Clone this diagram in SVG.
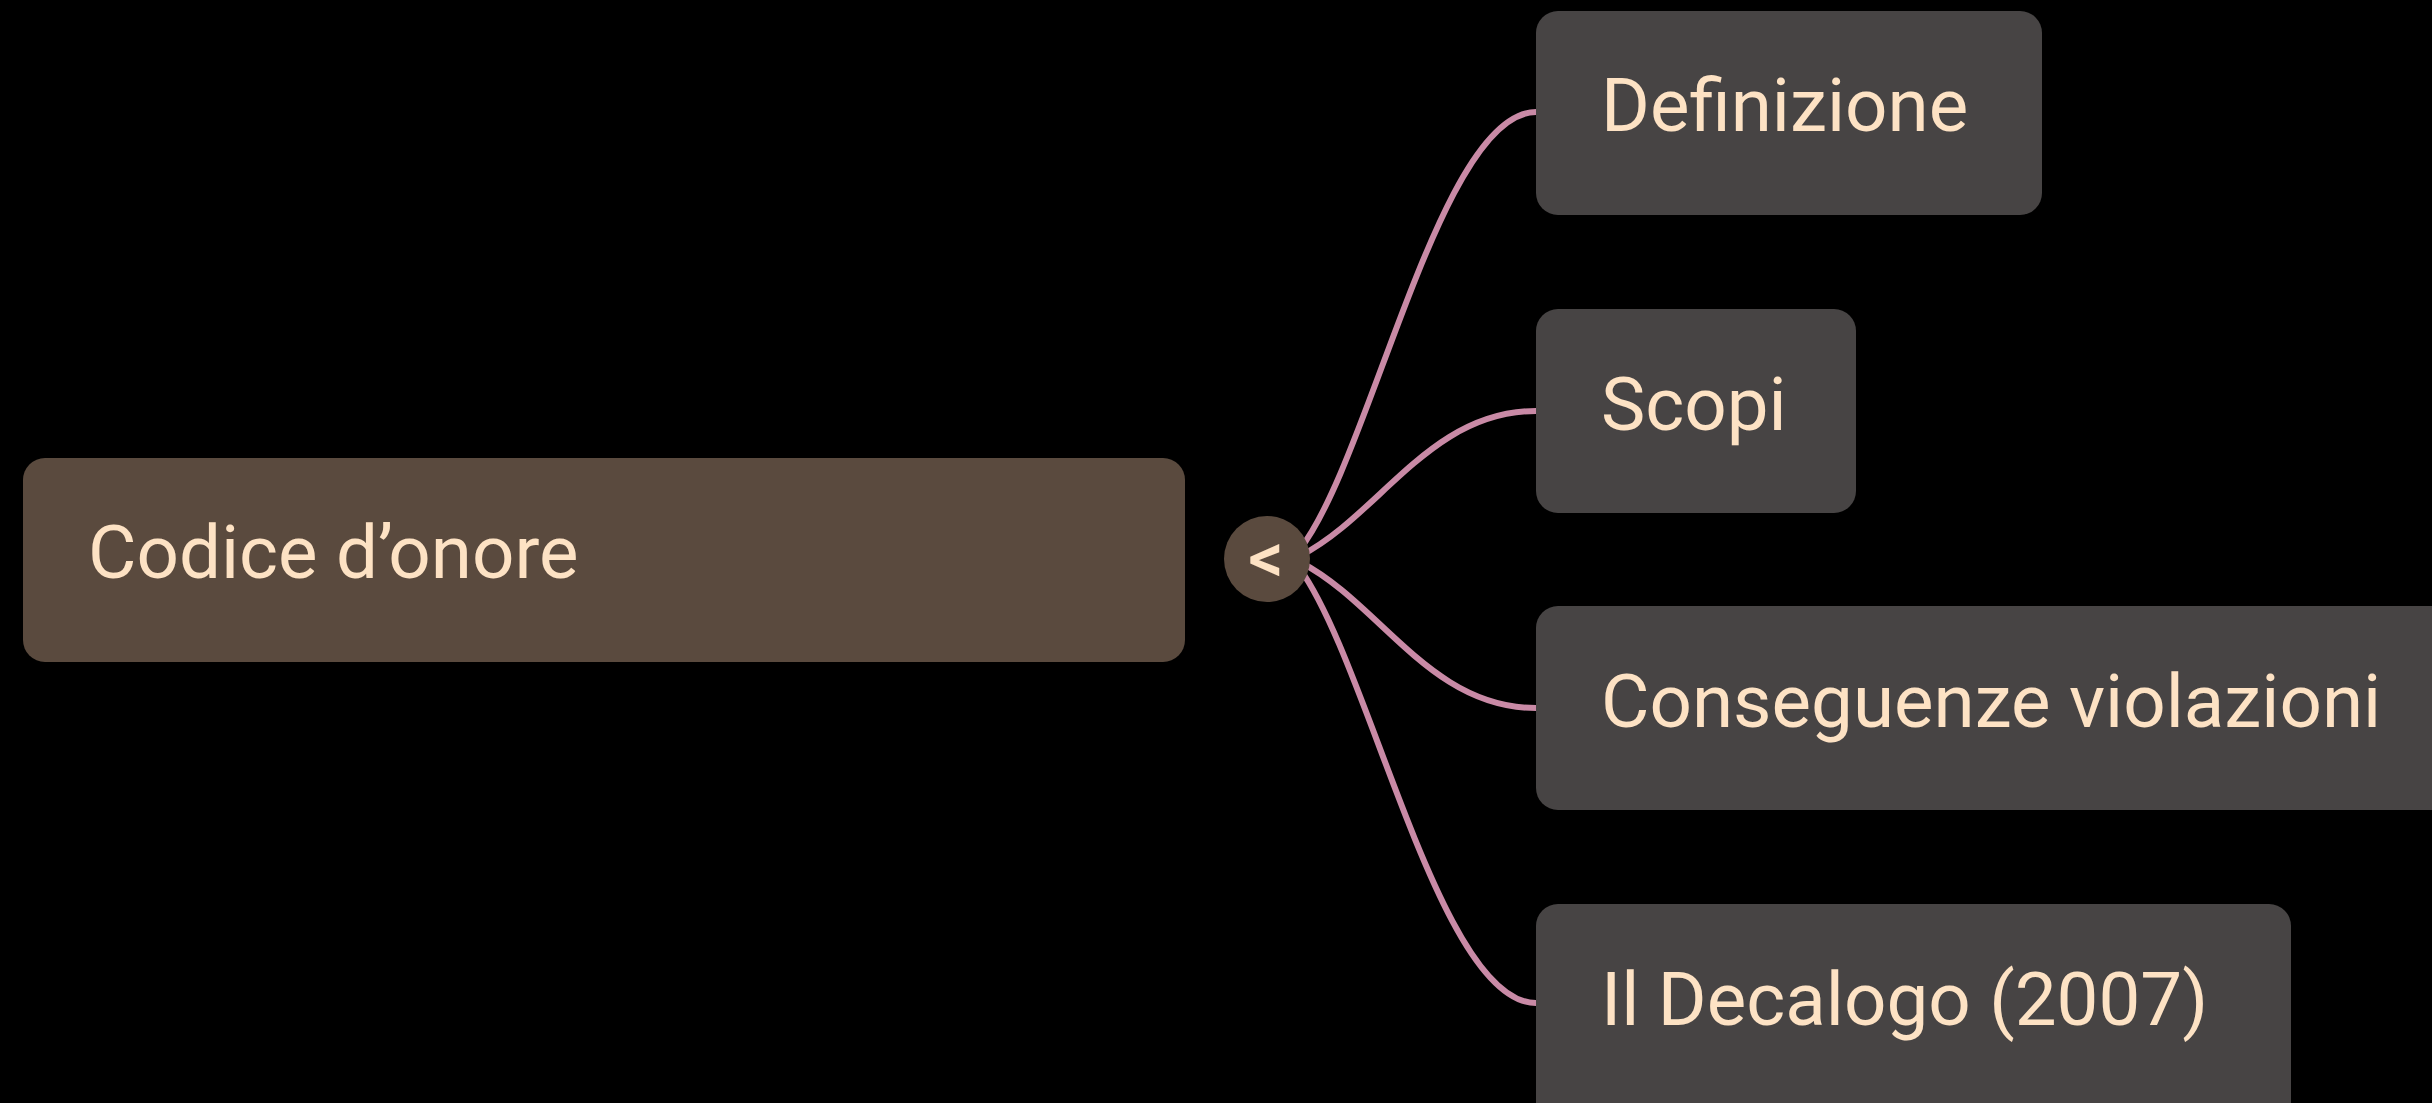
<svg xmlns="http://www.w3.org/2000/svg" width="2432" height="1103" viewBox="0 0 2432 1103">
<style>
.bg{fill:#000}
.root{fill:#5a4a3e}
.child{fill:#474444}
.lbl{font-family:Roboto,"Liberation Sans",sans-serif;font-size:74.5px;fill:#fde2c4}
.edge{fill:none;stroke:#c98aa6;stroke-width:6;stroke-linecap:round}
.toggle{fill:#5a4a3e}
.chev{font-family:Roboto,"Liberation Sans",sans-serif;font-size:70px;font-weight:500;fill:#fde2c4;text-anchor:middle}
</style>
<rect class="bg" x="0" y="0" width="2432" height="1103"/>
<g id="connectors">
<path class="edge" d="M1300 549 C1370 460 1440 112 1536 112"/>
<path class="edge" d="M1300 556 C1380 515 1430 411 1536 411"/>
<path class="edge" d="M1300 562 C1380 603 1430 708 1536 708"/>
<path class="edge" d="M1300 569 C1370 666 1440 1003 1536 1003"/>
</g>
<g id="node-root">
<rect class="root" x="23" y="458" width="1162" height="204" rx="22"/>
<text class="lbl" x="88" y="578">Codice d’onore</text>
</g>
<g id="toggle">
<circle class="toggle" cx="1267" cy="559" r="43"/>
<text class="chev" x="1266" y="582">&lt;</text>
</g>
<g id="node-definizione">
<rect class="child" x="1536" y="11" width="506" height="204" rx="22"/>
<text class="lbl" x="1601" y="131">Definizione</text>
</g>
<g id="node-scopi">
<rect class="child" x="1536" y="309" width="320" height="204" rx="22"/>
<text class="lbl" x="1601" y="430">Scopi</text>
</g>
<g id="node-conseguenze">
<rect class="child" x="1536" y="606" width="916" height="204" rx="22"/>
<text class="lbl" x="1601" y="727">Conseguenze violazioni</text>
</g>
<g id="node-decalogo">
<rect class="child" x="1536" y="904" width="755" height="220" rx="22"/>
<text class="lbl" x="1601" y="1025">Il Decalogo (2007)</text>
</g>
</svg>
